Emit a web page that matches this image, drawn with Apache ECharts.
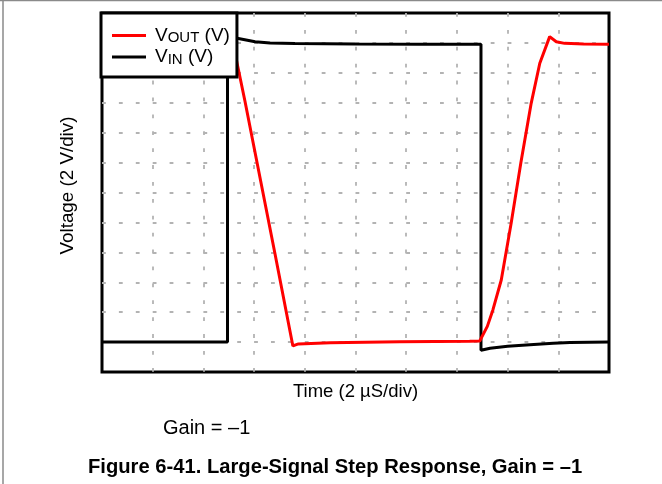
<!DOCTYPE html>
<html>
<head>
<meta charset="utf-8">
<script src="https://cdn.jsdelivr.net/npm/echarts@6/dist/echarts.min.js"></script>
<style>
  html, body { margin: 0; padding: 0; background: #fff; }
  #chart { width: 662px; height: 484px; }
</style>
</head>
<body>
<div id="chart"></div>
<script>
// Time axis: 0..20 µs at 2 µs/div; voltage axis: -12..12 V at 2 V/div
const timeMin = 0, timeMax = 20, timeStep = 2;
const voltMin = -12, voltMax = 12, voltStep = 2;

// Input step (V_IN): times in µs, volts
const vinTime = [0, 4.95, 4.95, 5.33, 6.04, 6.63, 7.61, 10.0, 12.54, 14.95, 14.95, 15.02, 15.31, 16.0, 16.88, 17.8, 18.46, 20.0];
const vinVolt = [-10.0, -10.0, 10.6, 10.31, 10.08, 9.99, 9.96, 9.93, 9.91, 9.91, -10.55, -10.53, -10.41, -10.28, -10.18, -10.08, -10.02, -10.0];

// Inverted output (V_OUT)
const voutTime = [0, 4.95, 5.1, 5.2, 5.36, 5.64, 6.82, 7.53, 7.61, 7.75, 9.0, 11.75, 14.5, 14.9, 14.96, 15.2, 15.42, 15.75, 16.14, 16.52, 16.93, 17.27, 17.66, 17.92, 18.25, 19.0, 20.0];
const voutVolt = [10.0, 10.0, 9.95, 9.7, 8.39, 6.1, -4.06, -10.26, -10.2, -10.12, -10.05, -9.97, -9.94, -9.93, -9.86, -8.95, -7.85, -5.85, -2.06, 1.95, 5.96, 8.64, 10.42, 10.08, 9.97, 9.93, 9.91];

const seriesNames = ['VOUT (V)', 'VIN (V)'];
const legendRich = {
  VOUT: '{f|V}{s|OUT}{m| (V)}',
  VIN: '{f|V}{s|IN}{m| (V)}'
};

const xAxisName = 'Time (2 µS/div)';
const yAxisName = 'Voltage (2 V/div)';
const gainText = 'Gain = –1';
const figureTitle = 'Figure 6-41. Large-Signal Step Response, Gain = –1';

const zip = (xs, ys) => xs.map((x, i) => [x, ys[i]]);

const FONT = '"Liberation Sans", Arial, Helvetica, sans-serif';
const gridLine = { color: '#b3b3b3', width: 1.8, type: [3.8, 13.1] };

const chart = echarts.init(document.getElementById('chart'), null, { renderer: 'canvas' });

chart.setOption({
  animation: false,
  backgroundColor: '#ffffff',
  textStyle: { fontFamily: FONT },
  title: [
    {
      text: gainText, left: 158, top: 413,
      textStyle: { fontFamily: FONT, fontSize: 20, fontWeight: 'normal', color: '#000' }
    },
    {
      text: figureTitle, left: 83, top: 452,
      textStyle: { fontFamily: FONT, fontSize: 20.2, fontWeight: 'bold', color: '#000' }
    }
  ],
  grid: {
    left: 102, right: 53, top: 13, bottom: 112,
    show: true, borderColor: '#000', borderWidth: 3, backgroundColor: 'transparent'
  },
  legend: {
    orient: 'vertical',
    left: 101, top: 13,
    z: 20,
    padding: [13, 7, 10, 11],
    itemGap: 2,
    itemWidth: 34, itemHeight: 3,
    icon: 'rect',
    selectedMode: false,
    backgroundColor: '#fff',
    borderColor: '#000', borderWidth: 3, borderRadius: 0,
    data: seriesNames,
    formatter: name => name.startsWith('VOUT') ? legendRich.VOUT : legendRich.VIN,
    textStyle: {
      fontFamily: FONT, color: '#000',
      rich: {
        f: { fontFamily: FONT, fontSize: 19, lineHeight: 20, color: '#000', padding: [0, 0, 0, 4] },
        m: { fontFamily: FONT, fontSize: 19, lineHeight: 20, color: '#000' },
        s: { fontFamily: FONT, fontSize: 15, lineHeight: 15, color: '#000', verticalAlign: 'bottom' }
      }
    }
  },
  xAxis: {
    type: 'value', min: timeMin, max: timeMax, interval: timeStep,
    name: xAxisName, nameLocation: 'middle', nameGap: 10,
    nameTextStyle: { fontFamily: FONT, fontSize: 18.5, color: '#000' },
    axisLine: { show: false }, axisTick: { show: false }, axisLabel: { show: false },
    splitLine: { show: true, showMinLine: false, showMaxLine: false, lineStyle: gridLine }
  },
  yAxis: {
    type: 'value', min: voltMin, max: voltMax, interval: voltStep,
    name: yAxisName, nameLocation: 'middle', nameGap: 25,
    nameTextStyle: { fontFamily: FONT, fontSize: 18.8, color: '#000', padding: [0, 0, 0, 14] },
    axisLine: { show: false }, axisTick: { show: false }, axisLabel: { show: false },
    splitLine: { show: true, showMinLine: false, showMaxLine: false, lineStyle: gridLine }
  },
  series: [
    {
      name: seriesNames[1], type: 'line', data: zip(vinTime, vinVolt),
      showSymbol: false, symbol: 'none', color: '#000',
      lineStyle: { color: '#000', width: 3 }
    },
    {
      name: seriesNames[0], type: 'line', data: zip(voutTime, voutVolt),
      showSymbol: false, symbol: 'none', color: '#ff0000',
      lineStyle: { color: '#ff0000', width: 3 }
    }
  ],
  graphic: [
    { type: 'line', shape: { x1: 0, y1: 0.5, x2: 662, y2: 0.5 }, style: { stroke: '#8a8a8a', lineWidth: 1.5 } },
    { type: 'line', shape: { x1: 3, y1: 0, x2: 3, y2: 484 }, style: { stroke: '#8a8a8a', lineWidth: 1.5 } }
  ]
});
</script>
</body>
</html>
